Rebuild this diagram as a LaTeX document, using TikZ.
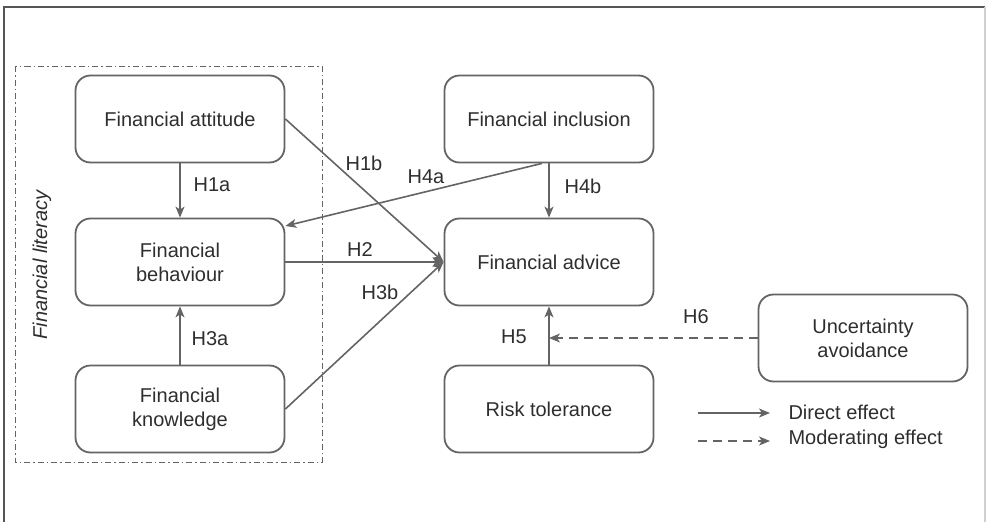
\documentclass[tikz,border=0pt]{standalone}
\usepackage{fontspec}
\setmainfont{Liberation Sans}
\usetikzlibrary{arrows.meta}
\definecolor{linegray}{HTML}{646464}
\definecolor{textgray}{HTML}{2E2E2E}
\definecolor{framegray}{HTML}{555555}
\definecolor{edgegray}{HTML}{D0D0D0}

\begin{document}
\begin{tikzpicture}[x=1pt, y=-1pt, >={Stealth[length=11pt,width=9pt,inset=3pt]},
	box/.style={draw=linegray, line width=1.8pt, rounded corners=15pt, minimum width=209pt, minimum height=87pt, align=center, text=textgray, font=\fontsize{20}{24}\selectfont},
	link/.style={draw=linegray, line width=1.6pt, ->},
	hlabel/.style={text=textgray, font=\fontsize{20}{24}\selectfont}]
	\useasboundingbox (0,0) rectangle (986,522);
	% Khung ngoài
	\draw[framegray, line width=1.6pt] (4,522) -- (4,7) -- (985,7);
	\draw[edgegray, line width=1.2pt] (985,7) -- (985,522);
	% Khối hiểu biết tài chính
	\draw[linegray, line width=1pt, dash pattern=on 6pt off 3pt on 1.5pt off 3pt] (15,66) rectangle (322,462);
	\node[hlabel, rotate=90, font=\fontsize{20}{24}\selectfont\itshape] (literacy) at (42,265) {Financial literacy};
	% Các khối
	\node[box] (attitude) at (180,119) {Financial attitude};
	\node[box] (behaviour) at (180,262) {Financial\\behaviour};
	\node[box] (knowledge) at (180,409) {Financial\\knowledge};
	\node[box] (inclusion) at (549,119) {Financial inclusion};
	\node[box] (advice) at (549,262) {Financial advice};
	\node[box] (risk) at (549,409) {Risk tolerance};
	\node[box] (uncert) at (863,338) {Uncertainty\\avoidance};
	% Các giả thuyết
	\draw[link] (attitude) -- (behaviour);
	\draw[link] (knowledge) -- (behaviour);
	\draw[link] (attitude.east) -- (advice.west);
	\draw[link] (behaviour.east) -- (advice.west);
	\draw[link] (knowledge.east) -- (advice.west);
	\draw[link] ([xshift=-7pt]inclusion.south) -- ([yshift=36pt]behaviour.east);
	\draw[link] (inclusion) -- (advice);
	\draw[link] (risk) -- (advice);
	\coordinate (h5mid) at (advice.south |- uncert.west);
	\draw[link, dash pattern=on 9pt off 6pt] (uncert.west) -- (h5mid);
	% Nhãn
	\node[hlabel] (h1a) at (212,185) {H1a};
	\node[hlabel] (h3a) at (210,339) {H3a};
	\node[hlabel] (h1b) at (364,163) {H1b};
	\node[hlabel] (h4a) at (426,177) {H4a};
	\node[hlabel] (h2) at (360,250) {H2};
	\node[hlabel] (h3b) at (380,292) {H3b};
	\node[hlabel] (h4b) at (583,186) {H4b};
	\node[hlabel] (h5) at (514,337) {H5};
	\node[hlabel] (h6) at (696,317) {H6};
	% Chú thích
	\coordinate (direct1) at (698,413);
	\coordinate (direct2) at (770,413);
	\coordinate (moder1) at (698,441);
	\coordinate (moder2) at (770,441);
	\draw[link] (direct1) -- (direct2);
	\draw[link, dash pattern=on 9pt off 6pt] (moder1) -- (moder2);
	\node[hlabel, anchor=west] (directtext) at (785,412) {Direct effect};
	\node[hlabel, anchor=west] (modertext) at (785,439) {Moderating effect};
\end{tikzpicture}
\end{document}
